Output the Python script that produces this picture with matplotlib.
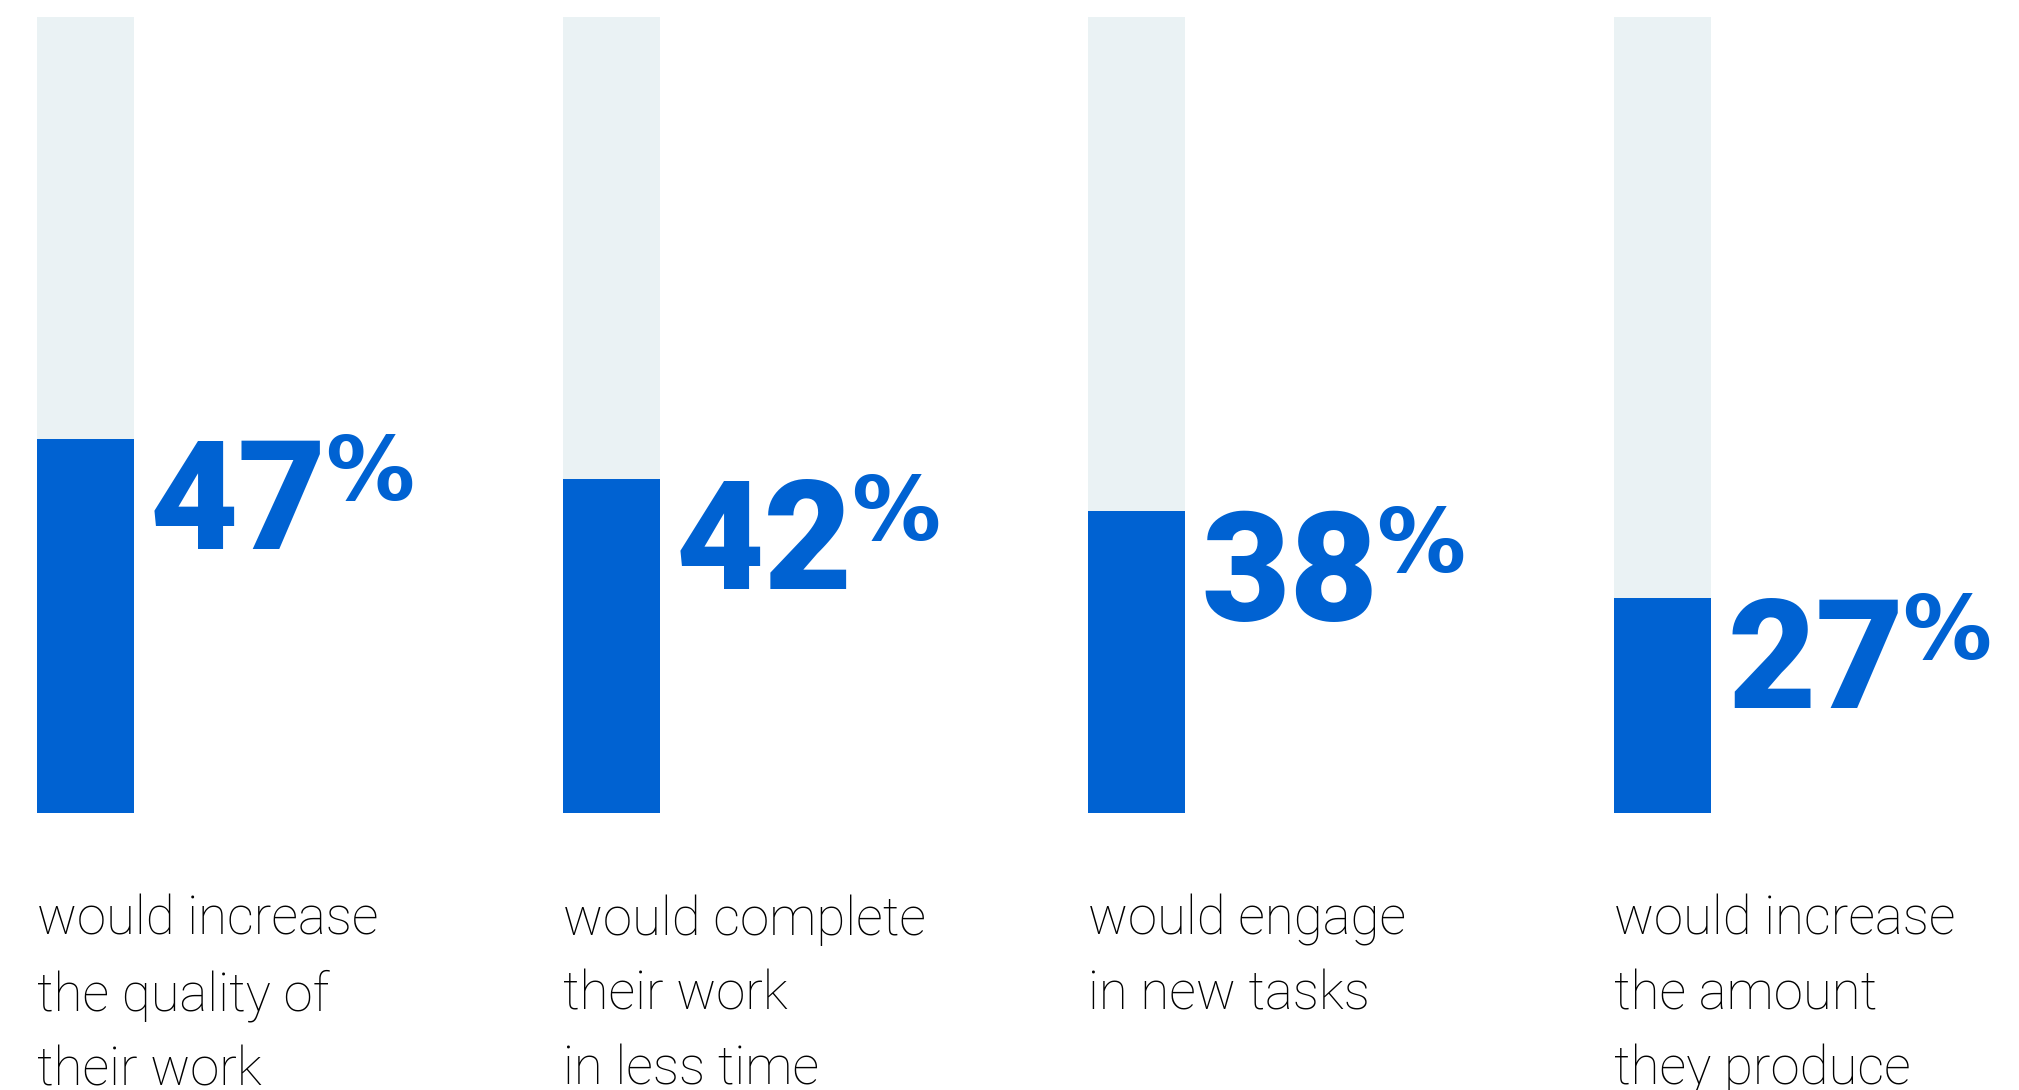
import matplotlib
matplotlib.use("Agg")
import matplotlib.pyplot as plt
from matplotlib import font_manager

# data
values = [47, 42, 38, 27]
labels = [
    "would increase\nthe quality of\ntheir work",
    "would complete\ntheir work\nin less time",
    "would engage\nin new tasks",
    "would increase\nthe amount\nthey produce",
]

blue = "#0062d2"
track = "#eaf2f4"

names = {f.name for f in font_manager.fontManager.ttflist}
numfont = "Roboto" if "Roboto" in names else "DejaVu Sans"
txtfont = "Roboto" if "Roboto" in names else "DejaVu Sans"

fig = plt.figure(figsize=(20.19, 10.90), dpi=100)
# axes spans bar area: 0% at y=813px, 100% at y=17px
ax = fig.add_axes([0, (1090 - 813) / 1090, 1, (813 - 17) / 1090])
ax.set_axis_off()

pitch = 525.67
w = 97 / pitch
ax.set_xlim(-85.5 / pitch, (2019 - 85.5) / pitch)
ax.set_ylim(0, 100)

x = list(range(len(values)))
ax.bar(x, [100] * len(values), width=w, color=track, lw=0)
ax.bar(x, values, width=w, color=blue, lw=0)

for i, (v, lab) in enumerate(zip(values, labels)):
    num = ax.annotate(str(v), xy=(i + w / 2, v), xytext=(16, -110),
                      textcoords="offset pixels", ha="left", va="baseline",
                      fontsize=110, fontweight="black", family=numfont,
                      color=blue)
    ax.annotate("%", xy=(1, v), xycoords=(num, "data"), xytext=(-2, -61),
                textcoords="offset pixels", ha="left", va="baseline",
                fontsize=64, fontweight="bold", family="DejaVu Sans",
                color=blue, annotation_clip=False)
    ax.annotate(lab, xy=(i - w / 2, 0), xytext=(0, -81),
                textcoords="offset pixels", ha="left", va="top",
                fontsize=38, fontweight="light", family=txtfont,
                color="black", linespacing=1.58, annotation_clip=False)

fig.savefig("out.png", dpi=100)
